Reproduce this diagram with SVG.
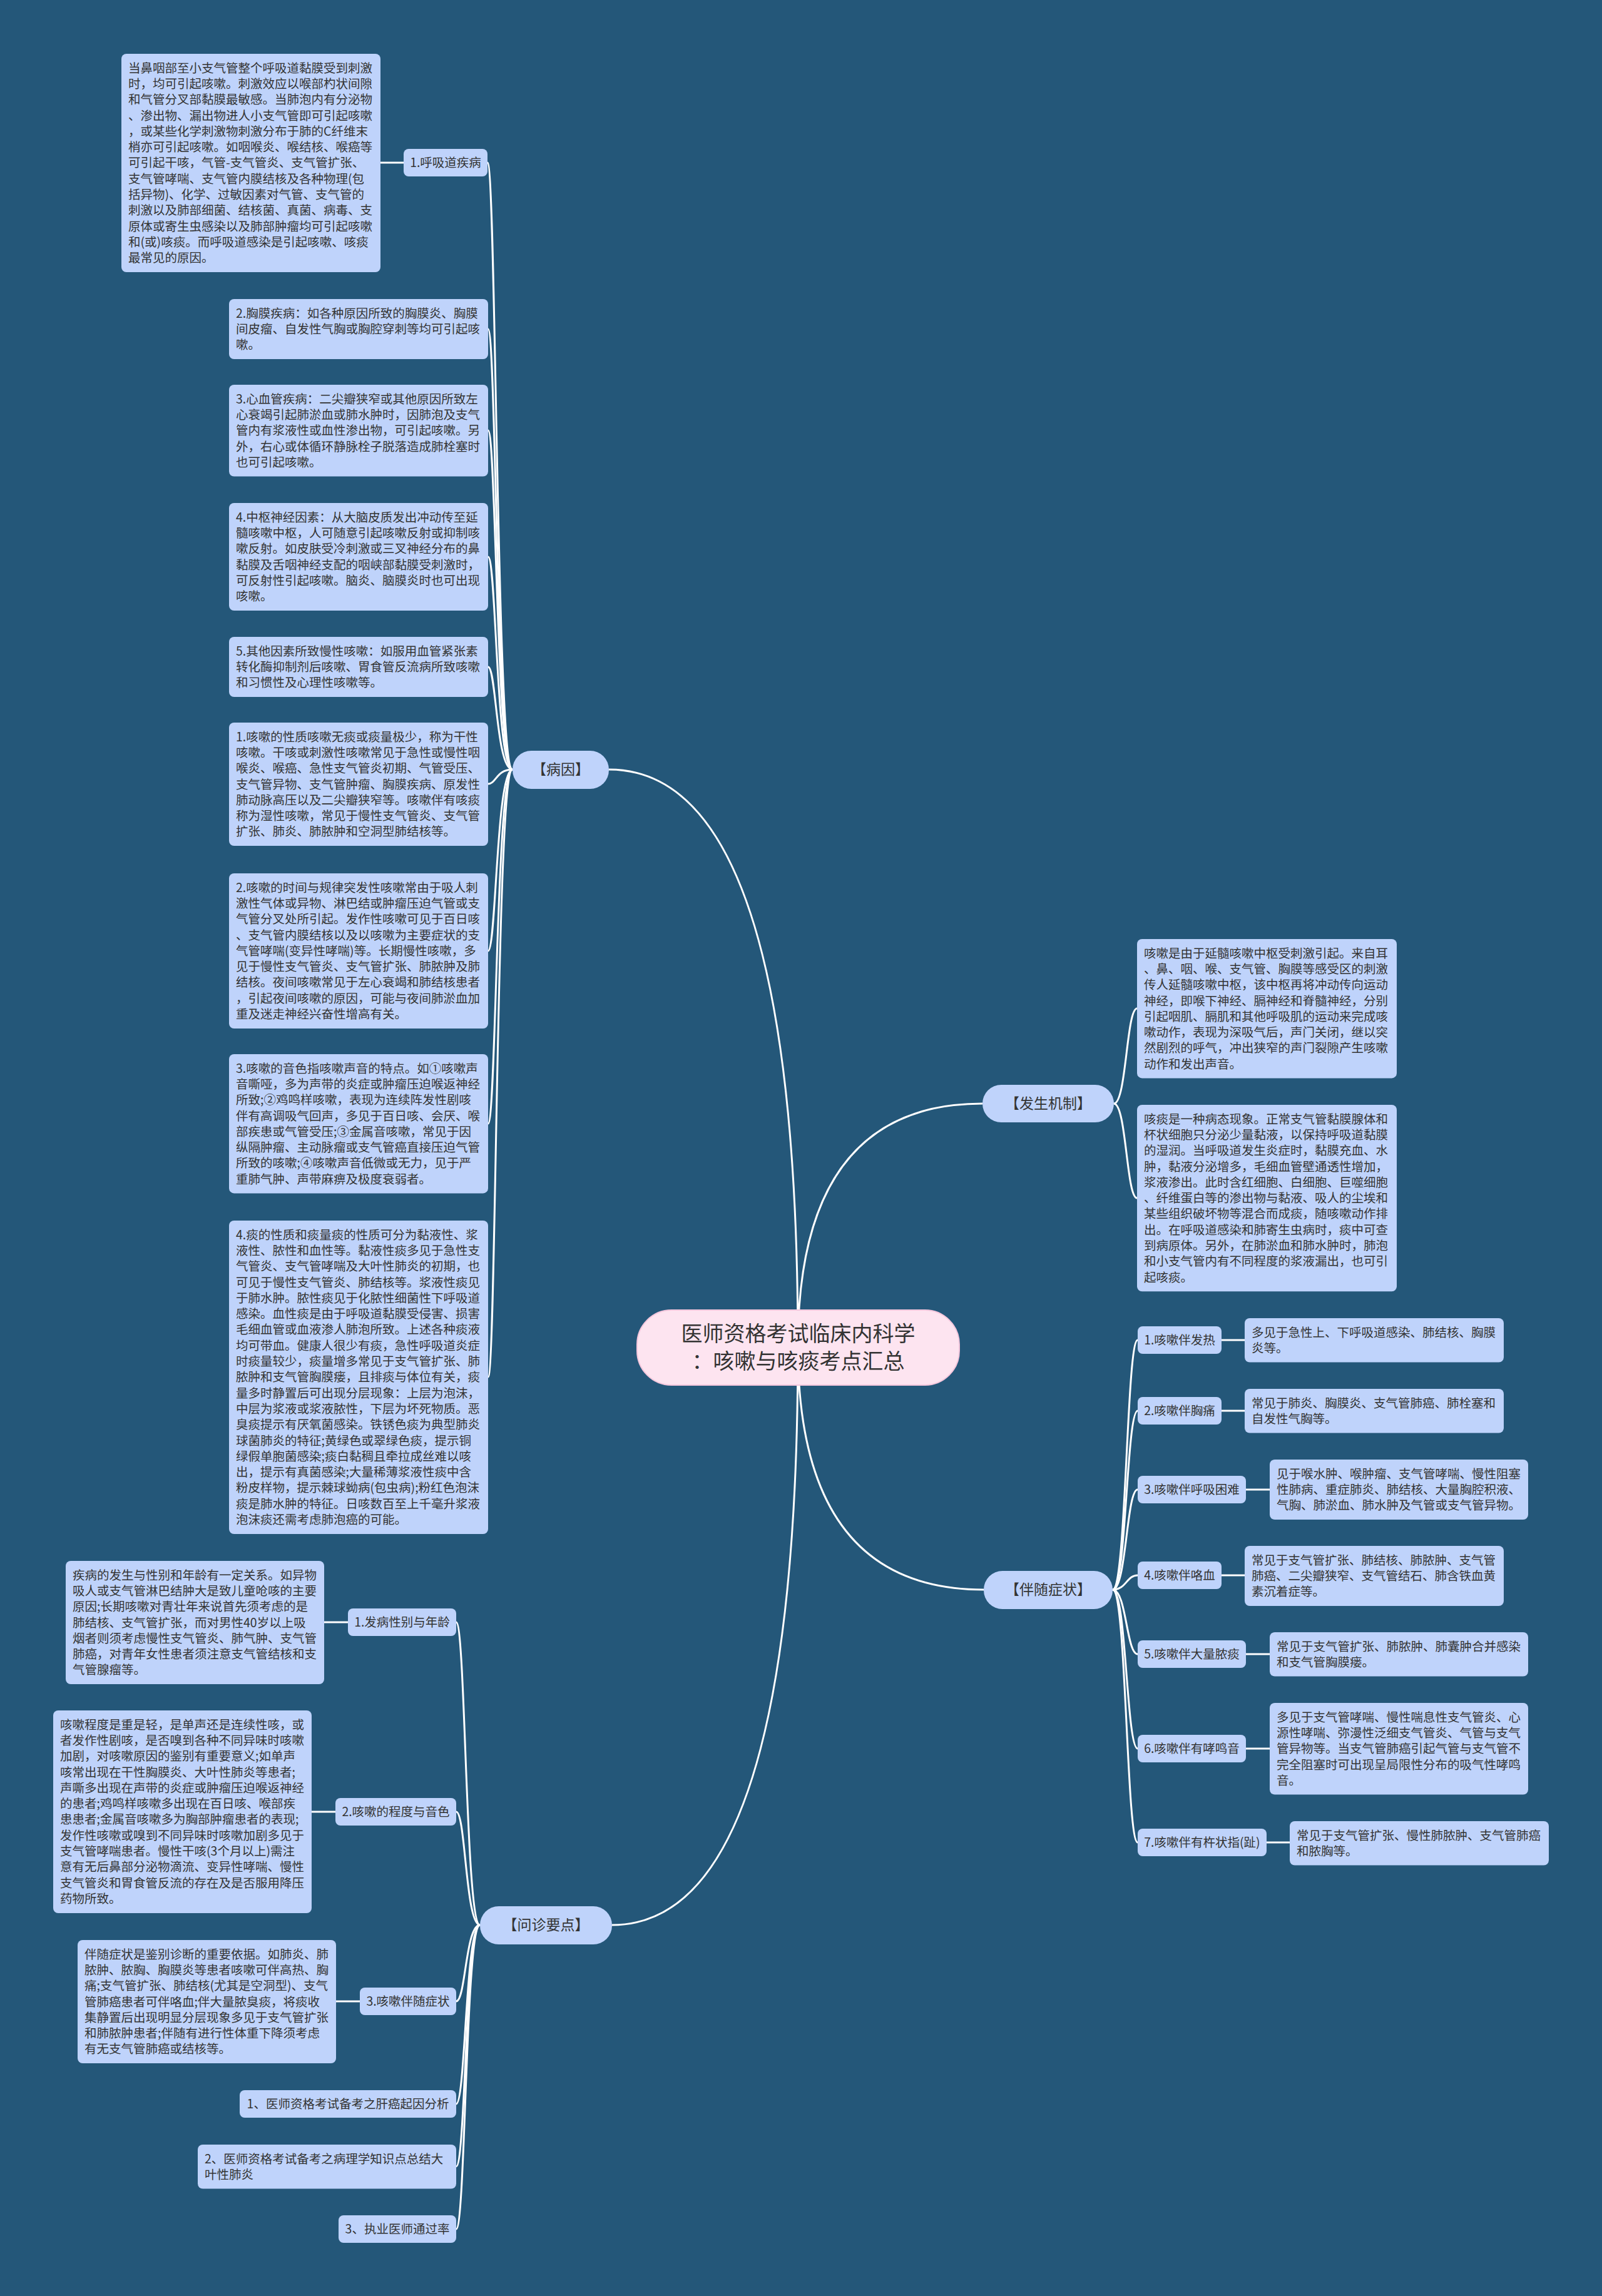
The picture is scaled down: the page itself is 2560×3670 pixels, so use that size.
<svg xmlns="http://www.w3.org/2000/svg" width="2560" height="3670" viewBox="0 0 2560 3670">
<style>
.n{fill:#bfd3fb;}
.t{font-family:"Noto Sans CJK SC","Noto Sans",sans-serif;font-size:19.5px;fill:#333;}
.lb{font-family:"Noto Sans CJK SC","Noto Sans",sans-serif;font-size:19.5px;fill:#333;text-anchor:middle;}
.m{font-family:"Noto Sans CJK SC","Noto Sans",sans-serif;font-size:23px;fill:#333;text-anchor:middle;}
.c{font-family:"Noto Sans CJK SC","Noto Sans",sans-serif;font-size:34px;fill:#333;text-anchor:middle;}
.e{fill:none;stroke:#fff;stroke-width:3;}
</style>
<rect x="0" y="0" width="2560" height="3670" fill="#245779"/>
<g id="connectors">
<path class="e" d="M1275,2152 Q1275,1230 973,1230"/>
<path class="e" d="M1275,2152 Q1275,3077 978,3077"/>
<path class="e" d="M1275,2152 Q1275,1764 1570,1764"/>
<path class="e" d="M1275,2152 Q1275,2541 1572,2541"/>
<path class="e" d="M819,1230 C793,1230 793,260 779,260"/>
<path class="e" d="M819,1230 C793,1230 793,526 780,526"/>
<path class="e" d="M819,1230 C793,1230 793,688 780,688"/>
<path class="e" d="M819,1230 C793,1230 793,890 780,890"/>
<path class="e" d="M819,1230 C793,1230 793,1066 780,1066"/>
<path class="e" d="M819,1230 C793,1230 793,1253 780,1253"/>
<path class="e" d="M819,1230 C793,1230 793,1520 780,1520"/>
<path class="e" d="M819,1230 C793,1230 793,1796 780,1796"/>
<path class="e" d="M819,1230 C793,1230 793,2201 780,2201"/>
<path class="e" d="M645,260 L608,260"/>
<path class="e" d="M767,3077 C744,3077 744,2593 729,2593"/>
<path class="e" d="M767,3077 C744,3077 744,2896 729,2896"/>
<path class="e" d="M767,3077 C744,3077 744,3199 729,3199"/>
<path class="e" d="M767,3077 C744,3077 744,3363 729,3363"/>
<path class="e" d="M767,3077 C744,3077 744,3463 729,3463"/>
<path class="e" d="M767,3077 C744,3077 744,3563 729,3563"/>
<path class="e" d="M556,2593 L518,2593"/>
<path class="e" d="M536,2896 L498,2896"/>
<path class="e" d="M575,3199 L537,3199"/>
<path class="e" d="M1780,1764 C1800,1764 1800,1612 1817,1612"/>
<path class="e" d="M1780,1764 C1800,1764 1800,1915 1817,1915"/>
<path class="e" d="M1778,2541 C1800,2541 1800,2142 1818,2142"/>
<path class="e" d="M1778,2541 C1800,2541 1800,2255 1818,2255"/>
<path class="e" d="M1778,2541 C1800,2541 1800,2381 1818,2381"/>
<path class="e" d="M1778,2541 C1800,2541 1800,2518 1818,2518"/>
<path class="e" d="M1778,2541 C1800,2541 1800,2644 1818,2644"/>
<path class="e" d="M1778,2541 C1800,2541 1800,2795 1818,2795"/>
<path class="e" d="M1778,2541 C1800,2541 1800,2945 1818,2945"/>
<path class="e" d="M1952,2142 L1989,2142"/>
<path class="e" d="M1952,2255 L1989,2255"/>
<path class="e" d="M1991,2381 L2029,2381"/>
<path class="e" d="M1952,2518 L1989,2518"/>
<path class="e" d="M1991,2644 L2029,2644"/>
<path class="e" d="M1991,2795 L2029,2795"/>
<path class="e" d="M2024,2945 L2061,2945"/>
</g>
<g id="center">
<rect x="1018" y="2094" width="515" height="120" rx="55" fill="#fde4f0" stroke="#f3c6dc" stroke-width="2"/>
<text class="c" x="1275.5" y="2144">医师资格考试临床内科学</text>
<text class="c" x="1275.5" y="2188">：咳嗽与咳痰考点汇总</text>
</g>
<g id="bingyin">
<rect class="n" x="819" y="1200" width="154" height="61" rx="30"/>
<text class="m" x="896" y="1238">【病因】</text>
</g>
<g id="wenzhen">
<rect class="n" x="767" y="3047" width="211" height="61" rx="30"/>
<text class="m" x="872.5" y="3085">【问诊要点】</text>
</g>
<g id="fasheng">
<rect class="n" x="1570" y="1734" width="210" height="60" rx="30"/>
<text class="m" x="1675" y="1772">【发生机制】</text>
</g>
<g id="banshui">
<rect class="n" x="1572" y="2511" width="206" height="61" rx="30"/>
<text class="m" x="1675" y="2549">【伴随症状】</text>
</g>
<g id="by-l1">
<rect class="n" x="645" y="238" width="134" height="44" rx="8"/>
<text class="lb" x="712" y="267">1.呼吸道疾病</text>
</g>
<g id="by-b1">
<rect class="n" x="194" y="86" width="414" height="349" rx="8"/>
<text class="t" x="205" y="115.6"><tspan>当鼻咽部至小支气管整个呼吸道黏膜受到刺激</tspan><tspan x="205" dy="25.3">时，均可引起咳嗽。刺激效应以喉部杓状间隙</tspan><tspan x="205" dy="25.3">和气管分叉部黏膜最敏感。当肺泡内有分泌物</tspan><tspan x="205" dy="25.3">、渗出物、漏出物进人小支气管即可引起咳嗽</tspan><tspan x="205" dy="25.3">，或某些化学刺激物刺激分布于肺的C纤维末</tspan><tspan x="205" dy="25.3">梢亦可引起咳嗽。如咽喉炎、喉结核、喉癌等</tspan><tspan x="205" dy="25.3">可引起干咳，气管-支气管炎、支气管扩张、</tspan><tspan x="205" dy="25.3">支气管哮喘、支气管内膜结核及各种物理(包</tspan><tspan x="205" dy="25.3">括异物)、化学、过敏因素对气管、支气管的</tspan><tspan x="205" dy="25.3">刺激以及肺部细菌、结核菌、真菌、病毒、支</tspan><tspan x="205" dy="25.3">原体或寄生虫感染以及肺部肿瘤均可引起咳嗽</tspan><tspan x="205" dy="25.3">和(或)咳痰。而呼吸道感染是引起咳嗽、咳痰</tspan><tspan x="205" dy="25.3">最常见的原因。</tspan></text>
</g>
<g id="by-b2">
<rect class="n" x="366" y="478" width="414" height="96" rx="8"/>
<text class="t" x="377" y="507.6"><tspan>2.胸膜疾病：如各种原因所致的胸膜炎、胸膜</tspan><tspan x="377" dy="25.3">间皮瘤、自发性气胸或胸腔穿刺等均可引起咳</tspan><tspan x="377" dy="25.3">嗽。</tspan></text>
</g>
<g id="by-b3">
<rect class="n" x="366" y="615" width="414" height="146.5" rx="8"/>
<text class="t" x="377" y="644.6"><tspan>3.心血管疾病：二尖瓣狭窄或其他原因所致左</tspan><tspan x="377" dy="25.3">心衰竭引起肺淤血或肺水肿时，因肺泡及支气</tspan><tspan x="377" dy="25.3">管内有浆液性或血性渗出物，可引起咳嗽。另</tspan><tspan x="377" dy="25.3">外，右心或体循环静脉栓子脱落造成肺栓塞时</tspan><tspan x="377" dy="25.3">也可引起咳嗽。</tspan></text>
</g>
<g id="by-b4">
<rect class="n" x="366" y="804" width="414" height="172" rx="8"/>
<text class="t" x="377" y="833.6"><tspan>4.中枢神经因素：从大脑皮质发出冲动传至延</tspan><tspan x="377" dy="25.3">髓咳嗽中枢，人可随意引起咳嗽反射或抑制咳</tspan><tspan x="377" dy="25.3">嗽反射。如皮肤受冷刺激或三叉神经分布的鼻</tspan><tspan x="377" dy="25.3">黏膜及舌咽神经支配的咽峡部黏膜受刺激时，</tspan><tspan x="377" dy="25.3">可反射性引起咳嗽。脑炎、脑膜炎时也可出现</tspan><tspan x="377" dy="25.3">咳嗽。</tspan></text>
</g>
<g id="by-b5">
<rect class="n" x="366" y="1018" width="414" height="96" rx="8"/>
<text class="t" x="377" y="1047.6"><tspan>5.其他因素所致慢性咳嗽：如服用血管紧张素</tspan><tspan x="377" dy="25.3">转化酶抑制剂后咳嗽、胃食管反流病所致咳嗽</tspan><tspan x="377" dy="25.3">和习惯性及心理性咳嗽等。</tspan></text>
</g>
<g id="by-b6">
<rect class="n" x="366" y="1155" width="414" height="197" rx="8"/>
<text class="t" x="377" y="1184.6"><tspan>1.咳嗽的性质咳嗽无痰或痰量极少，称为干性</tspan><tspan x="377" dy="25.3">咳嗽。干咳或刺激性咳嗽常见于急性或慢性咽</tspan><tspan x="377" dy="25.3">喉炎、喉癌、急性支气管炎初期、气管受压、</tspan><tspan x="377" dy="25.3">支气管异物、支气管肿瘤、胸膜疾病、原发性</tspan><tspan x="377" dy="25.3">肺动脉高压以及二尖瓣狭窄等。咳嗽伴有咳痰</tspan><tspan x="377" dy="25.3">称为湿性咳嗽，常见于慢性支气管炎、支气管</tspan><tspan x="377" dy="25.3">扩张、肺炎、肺脓肿和空洞型肺结核等。</tspan></text>
</g>
<g id="by-b7">
<rect class="n" x="366" y="1396" width="414" height="248" rx="8"/>
<text class="t" x="377" y="1425.6"><tspan>2.咳嗽的时间与规律突发性咳嗽常由于吸人刺</tspan><tspan x="377" dy="25.3">激性气体或异物、淋巴结或肿瘤压迫气管或支</tspan><tspan x="377" dy="25.3">气管分叉处所引起。发作性咳嗽可见于百日咳</tspan><tspan x="377" dy="25.3">、支气管内膜结核以及以咳嗽为主要症状的支</tspan><tspan x="377" dy="25.3">气管哮喘(变异性哮喘)等。长期慢性咳嗽，多</tspan><tspan x="377" dy="25.3">见于慢性支气管炎、支气管扩张、肺脓肿及肺</tspan><tspan x="377" dy="25.3">结核。夜间咳嗽常见于左心衰竭和肺结核患者</tspan><tspan x="377" dy="25.3">，引起夜间咳嗽的原因，可能与夜间肺淤血加</tspan><tspan x="377" dy="25.3">重及迷走神经兴奋性增高有关。</tspan></text>
</g>
<g id="by-b8">
<rect class="n" x="366" y="1685" width="414" height="222.4" rx="8"/>
<text class="t" x="377" y="1714.6"><tspan>3.咳嗽的音色指咳嗽声音的特点。如①咳嗽声</tspan><tspan x="377" dy="25.3">音嘶哑，多为声带的炎症或肿瘤压迫喉返神经</tspan><tspan x="377" dy="25.3">所致;②鸡鸣样咳嗽，表现为连续阵发性剧咳</tspan><tspan x="377" dy="25.3">伴有高调吸气回声，多见于百日咳、会厌、喉</tspan><tspan x="377" dy="25.3">部疾患或气管受压;③金属音咳嗽，常见于因</tspan><tspan x="377" dy="25.3">纵隔肿瘤、主动脉瘤或支气管癌直接压迫气管</tspan><tspan x="377" dy="25.3">所致的咳嗽;④咳嗽声音低微或无力，见于严</tspan><tspan x="377" dy="25.3">重肺气肿、声带麻痹及极度衰弱者。</tspan></text>
</g>
<g id="by-b9">
<rect class="n" x="366" y="1951" width="414" height="501" rx="8"/>
<text class="t" x="377" y="1980.6"><tspan>4.痰的性质和痰量痰的性质可分为黏液性、浆</tspan><tspan x="377" dy="25.3">液性、脓性和血性等。黏液性痰多见于急性支</tspan><tspan x="377" dy="25.3">气管炎、支气管哮喘及大叶性肺炎的初期，也</tspan><tspan x="377" dy="25.3">可见于慢性支气管炎、肺结核等。浆液性痰见</tspan><tspan x="377" dy="25.3">于肺水肿。脓性痰见于化脓性细菌性下呼吸道</tspan><tspan x="377" dy="25.3">感染。血性痰是由于呼吸道黏膜受侵害、损害</tspan><tspan x="377" dy="25.3">毛细血管或血液渗人肺泡所致。上述各种痰液</tspan><tspan x="377" dy="25.3">均可带血。健康人很少有痰，急性呼吸道炎症</tspan><tspan x="377" dy="25.3">时痰量较少，痰量增多常见于支气管扩张、肺</tspan><tspan x="377" dy="25.3">脓肿和支气管胸膜瘘，且排痰与体位有关，痰</tspan><tspan x="377" dy="25.3">量多时静置后可出现分层现象：上层为泡沫，</tspan><tspan x="377" dy="25.3">中层为浆液或浆液脓性，下层为坏死物质。恶</tspan><tspan x="377" dy="25.3">臭痰提示有厌氧菌感染。铁锈色痰为典型肺炎</tspan><tspan x="377" dy="25.3">球菌肺炎的特征;黄绿色或翠绿色痰，提示铜</tspan><tspan x="377" dy="25.3">绿假单胞菌感染;痰白黏稠且牵拉成丝难以咳</tspan><tspan x="377" dy="25.3">出，提示有真菌感染;大量稀薄浆液性痰中含</tspan><tspan x="377" dy="25.3">粉皮样物，提示棘球蚴病(包虫病);粉红色泡沫</tspan><tspan x="377" dy="25.3">痰是肺水肿的特征。日咳数百至上千毫升浆液</tspan><tspan x="377" dy="25.3">泡沫痰还需考虑肺泡癌的可能。</tspan></text>
</g>
<g id="wz-l1">
<rect class="n" x="556" y="2571" width="173" height="44" rx="8"/>
<text class="lb" x="642.5" y="2600">1.发病性别与年龄</text>
</g>
<g id="wz-b1">
<rect class="n" x="105" y="2495" width="413" height="197" rx="8"/>
<text class="t" x="116" y="2524.6"><tspan>疾病的发生与性别和年龄有一定关系。如异物</tspan><tspan x="116" dy="25.3">吸人或支气管淋巴结肿大是致儿童呛咳的主要</tspan><tspan x="116" dy="25.3">原因;长期咳嗽对青壮年来说首先须考虑的是</tspan><tspan x="116" dy="25.3">肺结核、支气管扩张，而对男性40岁以上吸</tspan><tspan x="116" dy="25.3">烟者则须考虑慢性支气管炎、肺气肿、支气管</tspan><tspan x="116" dy="25.3">肺癌，对青年女性患者须注意支气管结核和支</tspan><tspan x="116" dy="25.3">气管腺瘤等。</tspan></text>
</g>
<g id="wz-l2">
<rect class="n" x="536" y="2874" width="193" height="44" rx="8"/>
<text class="lb" x="632.5" y="2903">2.咳嗽的程度与音色</text>
</g>
<g id="wz-b2">
<rect class="n" x="85" y="2734" width="413" height="324" rx="8"/>
<text class="t" x="96" y="2763.6"><tspan>咳嗽程度是重是轻，是单声还是连续性咳，或</tspan><tspan x="96" dy="25.3">者发作性剧咳，是否嗅到各种不同异味时咳嗽</tspan><tspan x="96" dy="25.3">加剧，对咳嗽原因的鉴别有重要意义;如单声</tspan><tspan x="96" dy="25.3">咳常出现在干性胸膜炎、大叶性肺炎等患者;</tspan><tspan x="96" dy="25.3">声嘶多出现在声带的炎症或肿瘤压迫喉返神经</tspan><tspan x="96" dy="25.3">的患者;鸡鸣样咳嗽多出现在百日咳、喉部疾</tspan><tspan x="96" dy="25.3">患患者;金属音咳嗽多为胸部肿瘤患者的表现;</tspan><tspan x="96" dy="25.3">发作性咳嗽或嗅到不同异味时咳嗽加剧多见于</tspan><tspan x="96" dy="25.3">支气管哮喘患者。慢性干咳(3个月以上)需注</tspan><tspan x="96" dy="25.3">意有无后鼻部分泌物滴流、变异性哮喘、慢性</tspan><tspan x="96" dy="25.3">支气管炎和胃食管反流的存在及是否服用降压</tspan><tspan x="96" dy="25.3">药物所致。</tspan></text>
</g>
<g id="wz-l3">
<rect class="n" x="575" y="3177" width="154" height="44" rx="8"/>
<text class="lb" x="652" y="3206">3.咳嗽伴随症状</text>
</g>
<g id="wz-b3">
<rect class="n" x="124" y="3101" width="413" height="197" rx="8"/>
<text class="t" x="135" y="3130.6"><tspan>伴随症状是鉴别诊断的重要依据。如肺炎、肺</tspan><tspan x="135" dy="25.3">脓肿、脓胸、胸膜炎等患者咳嗽可伴高热、胸</tspan><tspan x="135" dy="25.3">痛;支气管扩张、肺结核(尤其是空洞型)、支气</tspan><tspan x="135" dy="25.3">管肺癌患者可伴咯血;伴大量脓臭痰，将痰收</tspan><tspan x="135" dy="25.3">集静置后出现明显分层现象多见于支气管扩张</tspan><tspan x="135" dy="25.3">和肺脓肿患者;伴随有进行性体重下降须考虑</tspan><tspan x="135" dy="25.3">有无支气管肺癌或结核等。</tspan></text>
</g>
<g id="wz-l4">
<rect class="n" x="383" y="3341" width="346" height="44" rx="8"/>
<text class="lb" x="556" y="3370">1、医师资格考试备考之肝癌起因分析</text>
</g>
<g id="wz-l5">
<rect class="n" x="316" y="3428" width="413" height="70.6" rx="8"/>
<text class="t" x="327" y="3457.6"><tspan>2、医师资格考试备考之病理学知识点总结大</tspan><tspan x="327" dy="25.3">叶性肺炎</tspan></text>
</g>
<g id="wz-l6">
<rect class="n" x="541" y="3541" width="188" height="44" rx="8"/>
<text class="lb" x="635" y="3570">3、执业医师通过率</text>
</g>
<g id="fs-b1">
<rect class="n" x="1817" y="1501" width="415" height="222.4" rx="8"/>
<text class="t" x="1828" y="1530.6"><tspan>咳嗽是由于延髓咳嗽中枢受刺激引起。来自耳</tspan><tspan x="1828" dy="25.3">、鼻、咽、喉、支气管、胸膜等感受区的刺激</tspan><tspan x="1828" dy="25.3">传人延髓咳嗽中枢，该中枢再将冲动传向运动</tspan><tspan x="1828" dy="25.3">神经，即喉下神经、膈神经和脊髓神经，分别</tspan><tspan x="1828" dy="25.3">引起咽肌、膈肌和其他呼吸肌的运动来完成咳</tspan><tspan x="1828" dy="25.3">嗽动作，表现为深吸气后，声门关闭，继以突</tspan><tspan x="1828" dy="25.3">然剧烈的呼气，冲出狭窄的声门裂隙产生咳嗽</tspan><tspan x="1828" dy="25.3">动作和发出声音。</tspan></text>
</g>
<g id="fs-b2">
<rect class="n" x="1817" y="1766" width="415" height="298.3" rx="8"/>
<text class="t" x="1828" y="1795.6"><tspan>咳痰是一种病态现象。正常支气管黏膜腺体和</tspan><tspan x="1828" dy="25.3">杯状细胞只分泌少量黏液，以保持呼吸道黏膜</tspan><tspan x="1828" dy="25.3">的湿润。当呼吸道发生炎症时，黏膜充血、水</tspan><tspan x="1828" dy="25.3">肿，黏液分泌增多，毛细血管壁通透性增加，</tspan><tspan x="1828" dy="25.3">浆液渗出。此时含红细胞、白细胞、巨噬细胞</tspan><tspan x="1828" dy="25.3">、纤维蛋白等的渗出物与黏液、吸人的尘埃和</tspan><tspan x="1828" dy="25.3">某些组织破坏物等混合而成痰，随咳嗽动作排</tspan><tspan x="1828" dy="25.3">出。在呼吸道感染和肺寄生虫病时，痰中可查</tspan><tspan x="1828" dy="25.3">到病原体。另外，在肺淤血和肺水肿时，肺泡</tspan><tspan x="1828" dy="25.3">和小支气管内有不同程度的浆液漏出，也可引</tspan><tspan x="1828" dy="25.3">起咳痰。</tspan></text>
</g>
<g id="bs-l1">
<rect class="n" x="1818" y="2120" width="134" height="44" rx="8"/>
<text class="lb" x="1885" y="2149">1.咳嗽伴发热</text>
</g>
<g id="bs-b1">
<rect class="n" x="1989" y="2107" width="414" height="70.6" rx="8"/>
<text class="t" x="2000" y="2136.6"><tspan>多见于急性上、下呼吸道感染、肺结核、胸膜</tspan><tspan x="2000" dy="25.3">炎等。</tspan></text>
</g>
<g id="bs-l2">
<rect class="n" x="1818" y="2233" width="134" height="44" rx="8"/>
<text class="lb" x="1885" y="2262">2.咳嗽伴胸痛</text>
</g>
<g id="bs-b2">
<rect class="n" x="1989" y="2220" width="414" height="70.6" rx="8"/>
<text class="t" x="2000" y="2249.6"><tspan>常见于肺炎、胸膜炎、支气管肺癌、肺栓塞和</tspan><tspan x="2000" dy="25.3">自发性气胸等。</tspan></text>
</g>
<g id="bs-l3">
<rect class="n" x="1818" y="2359" width="173" height="44" rx="8"/>
<text class="lb" x="1904.5" y="2388">3.咳嗽伴呼吸困难</text>
</g>
<g id="bs-b3">
<rect class="n" x="2029" y="2333" width="413" height="96" rx="8"/>
<text class="t" x="2040" y="2362.6"><tspan>见于喉水肿、喉肿瘤、支气管哮喘、慢性阻塞</tspan><tspan x="2040" dy="25.3">性肺病、重症肺炎、肺结核、大量胸腔积液、</tspan><tspan x="2040" dy="25.3">气胸、肺淤血、肺水肿及气管或支气管异物。</tspan></text>
</g>
<g id="bs-l4">
<rect class="n" x="1818" y="2496" width="134" height="44" rx="8"/>
<text class="lb" x="1885" y="2525">4.咳嗽伴咯血</text>
</g>
<g id="bs-b4">
<rect class="n" x="1989" y="2471" width="414" height="96" rx="8"/>
<text class="t" x="2000" y="2500.6"><tspan>常见于支气管扩张、肺结核、肺脓肿、支气管</tspan><tspan x="2000" dy="25.3">肺癌、二尖瓣狭窄、支气管结石、肺含铁血黄</tspan><tspan x="2000" dy="25.3">素沉着症等。</tspan></text>
</g>
<g id="bs-l5">
<rect class="n" x="1818" y="2622" width="173" height="44" rx="8"/>
<text class="lb" x="1904.5" y="2651">5.咳嗽伴大量脓痰</text>
</g>
<g id="bs-b5">
<rect class="n" x="2029" y="2609" width="413" height="70.6" rx="8"/>
<text class="t" x="2040" y="2638.6"><tspan>常见于支气管扩张、肺脓肿、肺囊肿合并感染</tspan><tspan x="2040" dy="25.3">和支气管胸膜瘘。</tspan></text>
</g>
<g id="bs-l6">
<rect class="n" x="1818" y="2773" width="173" height="44" rx="8"/>
<text class="lb" x="1904.5" y="2802">6.咳嗽伴有哮鸣音</text>
</g>
<g id="bs-b6">
<rect class="n" x="2029" y="2722" width="413" height="146.5" rx="8"/>
<text class="t" x="2040" y="2751.6"><tspan>多见于支气管哮喘、慢性喘息性支气管炎、心</tspan><tspan x="2040" dy="25.3">源性哮喘、弥漫性泛细支气管炎、气管与支气</tspan><tspan x="2040" dy="25.3">管异物等。当支气管肺癌引起气管与支气管不</tspan><tspan x="2040" dy="25.3">完全阻塞时可出现呈局限性分布的吸气性哮鸣</tspan><tspan x="2040" dy="25.3">音。</tspan></text>
</g>
<g id="bs-l7">
<rect class="n" x="1818" y="2923" width="206" height="44" rx="8"/>
<text class="lb" x="1921" y="2952">7.咳嗽伴有杵状指(趾)</text>
</g>
<g id="bs-b7">
<rect class="n" x="2061" y="2911" width="414" height="70.6" rx="8"/>
<text class="t" x="2072" y="2940.6"><tspan>常见于支气管扩张、慢性肺脓肿、支气管肺癌</tspan><tspan x="2072" dy="25.3">和脓胸等。</tspan></text>
</g>
</svg>
